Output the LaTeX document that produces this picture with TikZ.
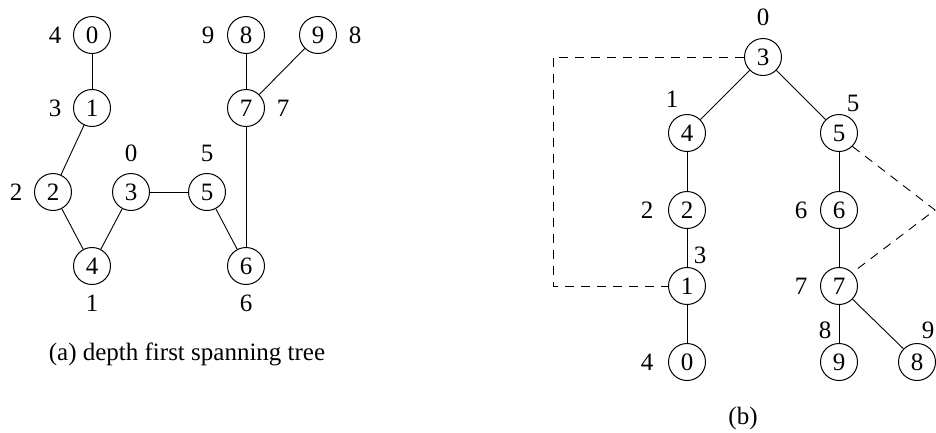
\documentclass[tikz,border=0pt]{standalone}
\usepackage{fontspec}
\setmainfont{Liberation Serif}
\begin{document}
\begin{tikzpicture}[x=1pt,y=-1pt,
  every node/.style={font=\fontsize{25}{28}\selectfont},
  v/.style={circle,draw,line width=1pt,minimum size=37pt,inner sep=0pt},
  lab/.style={inner sep=0pt},
  edge/.style={line width=0.9pt},
  dedge/.style={line width=0.9pt,dash pattern=on 9pt off 7pt}]
\useasboundingbox (0,0) rectangle (936,432);
% ---------- (a) ----------
\node[v] (a0) at (92,35) {0};
\node[v] (a1) at (92,108) {1};
\node[v] (a2) at (53,192) {2};
\node[v] (a3) at (131,192) {3};
\node[v] (a4) at (92,266) {4};
\node[v] (a5) at (207,192) {5};
\node[v] (a6) at (246,266) {6};
\node[v] (a7) at (246,108) {7};
\node[v] (a8) at (246,35) {8};
\node[v] (a9) at (318,35) {9};
\node[lab] (la0) at (55,35) {4};
\node[lab] (la1) at (55,108) {3};
\node[lab] (la2) at (16,192) {2};
\node[lab] (la3) at (131,153) {0};
\node[lab] (la5) at (207,153) {5};
\node[lab] (la4) at (92,303) {1};
\node[lab] (la6) at (246,303) {6};
\node[lab] (la7) at (283,108) {7};
\node[lab] (la8) at (208,35) {9};
\node[lab] (la9) at (355,35) {8};
\draw[edge] (a0) -- (a1);
\draw[edge] (a1) -- (a2);
\draw[edge] (a2) -- (a4);
\draw[edge] (a4) -- (a3);
\draw[edge] (a3) -- (a5);
\draw[edge] (a5) -- (a6);
\draw[edge] (a6) -- (a7);
\draw[edge] (a7) -- (a8);
\draw[edge] (a7) -- (a9);
\node[lab] (capa) at (187,354) {(a) depth first spanning tree};
% ---------- (b) ----------
\node[v] (b3) at (763,57) {3};
\node[v] (b4) at (687,133) {4};
\node[v] (b5) at (839,133) {5};
\node[v] (b2) at (687,210) {2};
\node[v] (b1) at (687,286) {1};
\node[v] (b0) at (687,362) {0};
\node[v] (b6) at (839,210) {6};
\node[v] (b7) at (839,286) {7};
\node[v] (b9) at (839,362) {9};
\node[v] (b8) at (917,362) {8};
\node[lab] (lb3) at (763,17) {0};
\node[lab] (lb4) at (672,99) {1};
\node[lab] (lb5) at (853,103) {5};
\node[lab] (lb2) at (647,210) {2};
\node[lab] (lb1) at (700,255) {3};
\node[lab] (lb0) at (647,362) {4};
\node[lab] (lb6) at (801,210) {6};
\node[lab] (lb7) at (801,286) {7};
\node[lab] (lb9) at (825,330) {8};
\node[lab] (lb8) at (928,330) {9};
\draw[edge] (b3) -- (b4);
\draw[edge] (b3) -- (b5);
\draw[edge] (b4) -- (b2);
\draw[edge] (b2) -- (b1);
\draw[edge] (b1) -- (b0);
\draw[edge] (b5) -- (b6);
\draw[edge] (b6) -- (b7);
\draw[edge] (b7) -- (b9);
\draw[edge] (b7) -- (b8);
\coordinate (c1) at (553,57);
\coordinate (c2) at (553,286);
\coordinate (tip) at (935,210);
\draw[dedge] (b3.west) -- (c1) -- (c2) -- (b1.west);
\draw[dedge] (b5.south east) -- (tip) -- (b7.north east);
\node[lab] (capb) at (743,418) {(b)};
\end{tikzpicture}
\end{document}
